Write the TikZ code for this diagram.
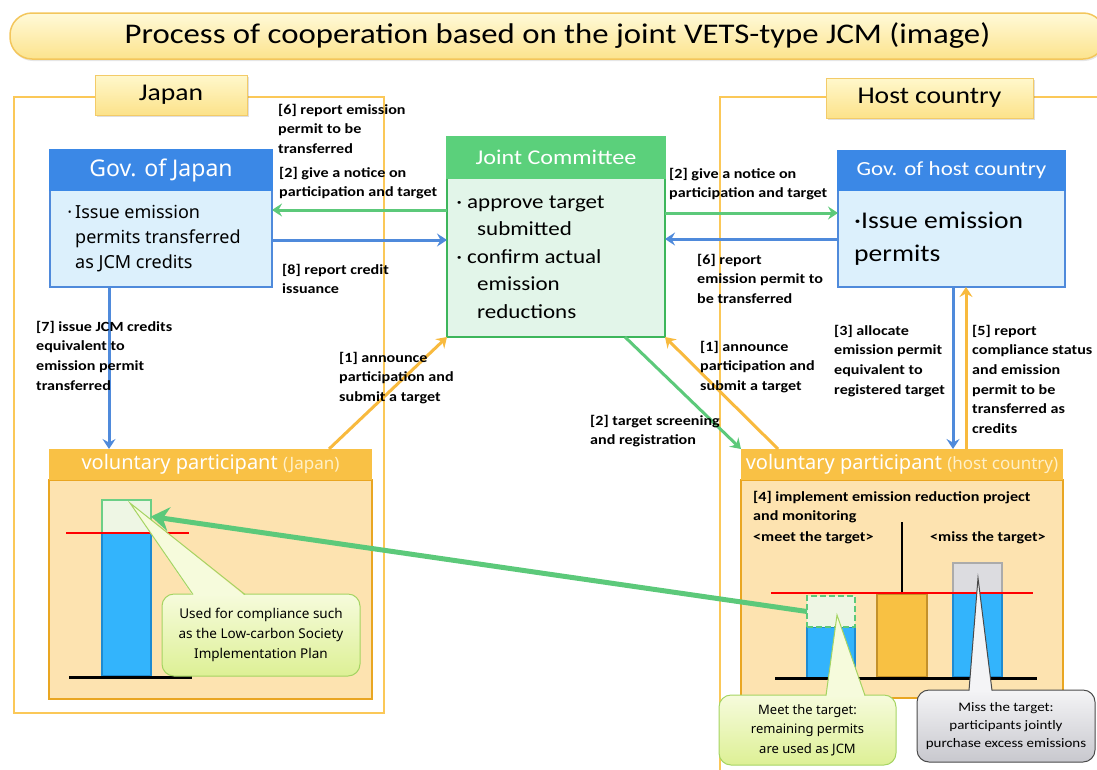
\documentclass[tikz,border=0pt]{standalone}
\usepackage{fontspec}
\setmainfont{Carlito}[FakeStretch=1.15]
\newfontfamily\noto{Noto Sans}
\usetikzlibrary{arrows.meta,shadows}
\definecolor{fr}{HTML}{FBC858}
\definecolor{ttlt}{HTML}{FFFAD8}
\definecolor{ttlb}{HTML}{FCE38D}
\definecolor{ttld}{HTML}{F3C65C}
\definecolor{bhead}{HTML}{3B88E6}
\definecolor{bbody}{HTML}{DCF0FC}
\definecolor{bdraw}{HTML}{4F8ADB}
\definecolor{ghead}{HTML}{5BD07B}
\definecolor{gbody}{HTML}{E2F5E9}
\definecolor{gdraw}{HTML}{3DB65B}
\definecolor{cg}{HTML}{5CC97A}
\definecolor{cb}{HTML}{4F8ADB}
\definecolor{co}{HTML}{F8BA3E}
\definecolor{vphead}{HTML}{F9C145}
\definecolor{vpbody}{HTML}{FDE3B0}
\definecolor{vpdraw}{HTML}{E9A622}
\definecolor{cream}{HTML}{FFF0C8}
\definecolor{barblue}{HTML}{33B4FC}
\definecolor{barbd}{HTML}{1E8BD2}
\definecolor{lightg}{HTML}{EEF6E4}
\definecolor{jtopd}{HTML}{6CCF86}
\definecolor{calgt}{HTML}{F6FBDC}
\definecolor{calgb}{HTML}{DDF095}
\definecolor{calgd}{HTML}{A5D462}
\definecolor{calyt}{HTML}{F4F4F6}
\definecolor{calyb}{HTML}{C8C8CE}
\definecolor{calyd}{HTML}{4A4A4A}
\definecolor{grbox}{HTML}{DCDCE0}
\definecolor{grboxd}{HTML}{ABABAB}
\definecolor{orbar}{HTML}{F8C143}
\definecolor{orbard}{HTML}{C4912A}
\definecolor{tagt}{HTML}{FFF8CC}
\definecolor{tagb}{HTML}{FCE28A}
\definecolor{tagd}{HTML}{F3CB68}
\begin{document}
\begin{tikzpicture}[x=1pt,y=-1pt,
  lbl/.style={font=\bfseries\fontsize{14}{19.7}\selectfont, align=left, inner sep=0pt, anchor=base west},
  arrtip/.style={-{Stealth[length=10pt,width=13pt,inset=3.5pt]}},
  argr/.style={draw=cg, line width=3pt, arrtip},
  arbl/.style={draw=cb, line width=3pt, arrtip},
  aror/.style={draw=co, line width=3pt, arrtip},
  box/.style={inner sep=0pt, outer sep=0pt, anchor=north west},
  tagbox/.style={box, draw=tagd, line width=1pt, top color=tagt, bottom color=tagb,
    font=\fontsize{24}{24}\selectfont, drop shadow={shadow xshift=1.5pt, shadow yshift=-1.5pt, opacity=0.25}},
  frame/.style={draw=fr, line width=2.5pt},
  bar/.style={box, fill=barblue, draw=barbd, line width=1.5pt},
  callg/.style={box, rounded corners=12pt, top color=calgt, bottom color=calgb, draw=calgd, line width=1pt, align=center},
  cally/.style={box, rounded corners=12pt, top color=calyt, bottom color=calyb, draw=calyd, line width=1pt, align=center},
]
\useasboundingbox (0,0) rectangle (1097,769);

% title
\node[box, rounded corners=22pt, top color=ttlt, bottom color=ttlb, draw=ttld, line width=1.5pt,
  minimum width=1095pt, minimum height=46pt, font=\fontsize{28.5}{28.5}\selectfont,
  drop shadow={shadow xshift=1pt, shadow yshift=-2pt, opacity=0.2}] (ttl) at (10,13)
  {Process of cooperation based on the joint VETS-type JCM (image)};

% frames
\draw[frame] (14,97) rectangle (384,713);
\draw[frame] (1100,97) -- (720,97) -- (720,775);
\node[tagbox, minimum width=152pt, minimum height=40pt] (tjp) at (95,75) {Japan};
\node[tagbox, minimum width=207pt, minimum height=40pt] (thc) at (826,78) {Host country};

% Gov of Japan
\node[box, fill=bbody, draw=bdraw, line width=2.5pt, minimum width=222pt, minimum height=137pt] (gj) at (50,150) {};
\node[box, fill=bhead, draw=bhead, line width=2.5pt, minimum width=222pt, minimum height=40pt,
  text=white, font=\noto\fontsize{23}{23}\selectfont] (gjh) at (50,150) {Gov. of Japan};
\node[inner sep=0pt, anchor=base west, align=left, font=\noto\fontsize{18}{25}\selectfont] (gjt) at (75,268)
  {\llap{·\hspace{3pt}}Issue emission\\permits transferred\\as JCM credits};

% Joint Committee
\node[box, fill=gbody, draw=gdraw, line width=2.5pt, minimum width=218pt, minimum height=200pt] (jc) at (447,137) {};
\node[box, fill=ghead, draw=ghead, line width=2.5pt, minimum width=218pt, minimum height=41pt,
  text=white, font=\fontsize{21}{21}\selectfont] (jch) at (447,137) {Joint Committee};
\node[inner sep=0pt, anchor=base west, align=left, font=\fontsize{20}{27.5}\selectfont] (jct) at (467,318)
  {\llap{·\hspace{5pt}}approve target\\\hspace*{10pt}submitted\\\llap{·\hspace{5pt}}confirm actual\\\hspace*{10pt}emission\\\hspace*{10pt}reductions};

% Gov of host country
\node[box, fill=bbody, draw=bdraw, line width=2.5pt, minimum width=227pt, minimum height=136pt] (hg) at (838,151) {};
\node[box, fill=bhead, draw=bhead, line width=2.5pt, minimum width=227pt, minimum height=39pt,
  text=white, font=\fontsize{20}{20}\selectfont] (hgh) at (838,151) {Gov. of host country};
\node[inner sep=0pt, anchor=base west, align=left, font=\fontsize{24}{33}\selectfont] (hgt) at (854,261)
  {·Issue emission\\permits};

% voluntary participant (Japan)
\node[box, fill=vpbody, draw=vpdraw, line width=2.5pt, minimum width=323pt, minimum height=219pt] (jvp) at (49,480) {};
\node[box, fill=vphead, minimum width=323pt, minimum height=31pt, text=white,
  font=\noto\fontsize{20}{20}\selectfont] (jvph) at (49,449)
  {voluntary participant {\fontsize{17}{17}\selectfont\color{cream}(Japan)}};
\node[bar, minimum width=49pt, minimum height=143pt] (jbar) at (102,533) {};
\node[box, fill=lightg, draw=jtopd, line width=2pt, minimum width=49pt, minimum height=33pt] (jtop) at (102,500) {};
\draw[red, line width=2.5pt] (66,533) -- (189,533);
\draw[black, line width=3pt] (69,677) -- (192,677);

% voluntary participant (host country)
\node[box, fill=vpbody, draw=vpdraw, line width=2.5pt, minimum width=322pt, minimum height=218pt] (hvp) at (741,480) {};
\node[box, fill=vphead, minimum width=322pt, minimum height=31pt, text=white,
  font=\noto\fontsize{20}{20}\selectfont] (hvph) at (741,449)
  {voluntary participant {\fontsize{17}{17}\selectfont\color{cream}(host country)}};
\node[lbl] (t4) at (753,520.7) {[4] implement emission reduction project\\and monitoring};
\node[lbl] (tmeet) at (753,541) {<meet the target>};
\node[lbl] (tmiss) at (930,541) {<miss the target>};
\draw[black, line width=2.5pt] (902,522) -- (902,593);
\node[bar, minimum width=48pt, minimum height=51pt] (mbar) at (807,627) {};
\node[box, fill=lightg, draw=cg, line width=2.5pt, dash pattern=on 6pt off 3pt, minimum width=48pt, minimum height=31pt] (meet) at (807,596) {};
\node[box, fill=orbar, draw=orbard, line width=2pt, minimum width=50pt, minimum height=83pt] (obar) at (877,594) {};
\node[bar, minimum width=49pt, minimum height=84pt] (sbar) at (953,593) {};
\node[box, fill=grbox, draw=grboxd, line width=2pt, minimum width=49pt, minimum height=30pt] (sgray) at (953,563) {};
\draw[red, line width=2.5pt] (771,593) -- (1033,593);
\draw[black, line width=3pt] (775,678) -- (1037,678);

% callouts
\node[callg, minimum width=198pt, minimum height=82pt, font=\noto\fontsize{13.5}{20}\selectfont] (cj) at (162,594)
  {Used for compliance such\\as the Low-carbon Society\\Implementation Plan};
\fill[calgt] (130,503) -- (193,596) -- (245,596) -- cycle;
\draw[calgd, line width=1pt] (193,594.5) -- (130,503) -- (245,594.5);

\node[callg, minimum width=177pt, minimum height=70pt, font=\noto\fontsize{13}{19.5}\selectfont] (cm) at (719,695)
  {Meet the target:\\remaining permits\\are used as JCM};
\fill[calgt] (837,615) -- (826,697) -- (865,697) -- cycle;
\draw[calgd, line width=1pt] (826,695.5) -- (837,615) -- (865,695.5);

\node[cally, minimum width=178pt, minimum height=72pt, font=\fontsize{13}{18}\selectfont] (cs) at (917,690)
  {Miss the target:\\participants jointly\\purchase excess emissions};
\fill[calyt] (978,578) -- (969,692) -- (992,692) -- cycle;
\draw[calyd, line width=1pt] (969,690.5) -- (978,578) -- (992,690.5);

% big green arrow
\draw[cg, line width=5pt, -{Stealth[length=18pt,width=24pt,inset=6pt]}] (meet.west) -- (jtop.east);

% arrows
\draw[argr] (jc.west |- 0,210) -- (gj.east |- 0,210);
\draw[arbl] (gj.east |- 0,240) -- (jc.west |- 0,240);
\draw[argr] (jc.east |- 0,213) -- (hg.west |- 0,213);
\draw[arbl] (hg.west |- 0,239) -- (jc.east |- 0,239);
\draw[arbl] (gj.south -| 109,0) -- (jvph.north -| 109,0);
\draw[aror] (jvph.north -| 329,0) -- (jc.south west);
\draw[argr] (jc.south -| 625,0) -- (hvph.north west);
\draw[aror] (hvph.north -| 778,0) -- (jc.south east);
\draw[arbl] (hg.south -| 953,0) -- (hvph.north -| 953,0);
\draw[aror] (hvph.north -| 966,0) -- (hg.south -| 966,0);

% labels
\node[lbl] (l6a) at (278,153.4) {[6] report emission\\permit to be\\transferred};
\node[lbl] (l2a) at (279,196.7) {[2] give a notice on\\participation and target};
\node[lbl] (l8) at (282,293.7) {[8] report credit\\issuance};
\node[lbl] (l7) at (36,390.1) {[7] issue JCM credits\\equivalent to\\emission permit\\transferred};
\node[lbl] (l1a) at (339,401.4) {[1] announce\\participation and\\submit a target};
\node[lbl] (l2b) at (669,197.7) {[2] give a notice on\\participation and target};
\node[lbl] (l6b) at (697,303.4) {[6] report\\emission permit to\\be transferred};
\node[lbl] (l1b) at (700,390.4) {[1] announce\\participation and\\submit a target};
\node[lbl] (l2c) at (590,444.7) {[2] target screening\\and registration};
\node[lbl] (l3) at (834,394.1) {[3] allocate\\emission permit\\equivalent to\\registered target};
\node[lbl] (l5) at (972,433.5) {[5] report\\compliance status\\and emission\\permit to be\\transferred as\\credits};
\end{tikzpicture}
\end{document}
